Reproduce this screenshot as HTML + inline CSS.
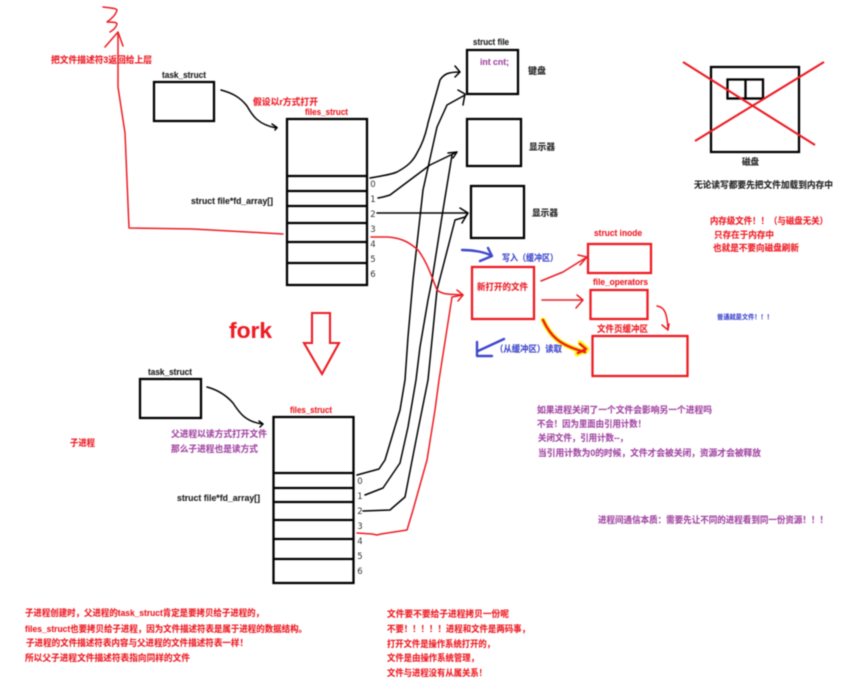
<!DOCTYPE html>
<html><head><meta charset="utf-8"><style>
html,body{margin:0;padding:0;background:#fff;width:844px;height:688px;overflow:hidden}
svg{display:block;filter:blur(.4px)}
text{font-family:"Liberation Sans","Noto Sans CJK SC",sans-serif;font-size:9px;font-weight:700;stroke-width:.12px}
.k{fill:#222;stroke:#222}.r{fill:#ed1c24;stroke:#ed1c24}.p{fill:#a349a4;stroke:#a349a4}.b{fill:#3f48cc;stroke:#3f48cc}
.n{font-family:"DejaVu Sans",sans-serif;font-weight:400;font-size:8.500px;fill:#333;stroke:none;text-anchor:middle}
.bx{fill:none;stroke:#000;stroke-width:2.300}
.rb{fill:none;stroke:#ed1c24;stroke-width:2.300}
.l{fill:none;stroke:#000;stroke-width:1.500;stroke-linejoin:round;stroke-linecap:round}
.rl{fill:none;stroke:#ed1c24;stroke-width:1.500;stroke-linejoin:round;stroke-linecap:round}
.bl{fill:none;stroke:#3f48cc;stroke-width:2.400;stroke-linejoin:round;stroke-linecap:round}
</style></head><body>
<svg width="844" height="688" viewBox="0 0 844 688" xmlns="http://www.w3.org/2000/svg">
<!-- top structs -->
<rect class="bx" x="154" y="82" width="60" height="39"/>
<rect class="bx" x="287" y="119" width="80" height="166"/>
<path class="bx" d="M287 176H367M287 191H367M287 206H367M287 223H367M287 242H367M287 263H367"/>
<!-- bottom structs -->
<rect class="bx" x="140" y="379" width="61" height="39"/>
<rect class="bx" x="273.500" y="417" width="80" height="166"/>
<path class="bx" d="M273 473H353M273 488H353M273 502H353M273 520H353M273 539H353M273 559H353"/>
<!-- file boxes -->
<rect class="bx" x="467" y="50" width="51" height="44"/>
<rect class="bx" x="467" y="119" width="54" height="47"/>
<rect class="bx" x="471" y="186" width="53" height="52"/>
<!-- disk -->
<rect class="bx" x="711" y="67" width="88" height="85"/>
<rect class="bx" x="727.500" y="79.500" width="35.500" height="19"/>
<path class="bx" d="M745.500 79V99"/>
<path d="M683 62L815 145M824 62L695 141" stroke="#ed1c24" stroke-width="2.100" fill="none"/>
<!-- red boxes -->
<rect class="rb" x="472" y="267" width="62" height="52"/>
<rect class="rb" x="588" y="244" width="63" height="29"/>
<rect class="rb" x="590.500" y="290" width="57" height="29"/>
<rect class="rb" x="592.500" y="336" width="95" height="40"/>
<!-- fork arrow -->
<path d="M312 313H330V343H339L322 374L304 343H312Z" fill="none" stroke="#ed1c24" stroke-width="2.100"/>
<!-- black connectors -->
<path class="l" d="M221 90C232 93 240 97 247 106C252 115 258 125 277 128M272 124L277 127.500L275 130"/>
<path class="l" d="M207 387C218 390 226 395 233 403C239 412 245 422 263 424M259 421L263 424L260 427"/>
<path class="l" d="M370 178C380 176 390 175 397 172C408 166 413 161 417 153C423 143 426 133 428 123L440 80C444 74 448 72 460 72M455 66L460 72L455 77"/>
<path class="l" d="M378 198C384 197 387 196 390 195L410 180L430 165L457 152M448 153L457 152L453 158"/>
<path class="l" d="M377 213H468M460 208L468 213L462 223"/>
<path class="l" d="M357 475L379 469L385 460L400 410L405 380L408 337L413 280L423 190L437 127L447 105L465 95M458 90L465 94L463 105"/>
<path class="l" d="M365 495L383 488L400 463L408 427L416 380L420 347L428 300L432 280L443 210L452 155"/>
<path class="l" d="M363 511L390 510L405 497L418 430L428 380L437 290L455 220L465 217M465 217L468 213"/>
<!-- red connectors -->
<path class="rl" d="M371 237L388 237C400 238 408 241 418 250C427 262 431 275 437 290C443 295 450 294 463 295M457 290L463 295L458 301"/>
<path class="rl" d="M357 533L372 534L377 535L381 534L407 530L413 510L427 460L435 410L439 380L452 297L463 295"/>
<path class="rl" d="M283 234L193 229L129 228L125 133L118 87L118 32M105 47L118 32L123 46"/>
<path class="rl" d="M103 7C110 8 116 8 117 10C116 15 110 20 107 22C112 22 117 22 117 24C116 28 113 30 110 32"/>
<path class="rl" d="M541 281L563 272L587 257M578 255L587 257L580 265"/>
<path class="rl" d="M542 300H583M577 295L583 300L576 308"/>
<path class="rl" d="M657 306C664 307 667 312 668 329M662 325L668 330L669 324"/>
<!-- highlighted arrow -->
<path d="M543 320C550 335 558 345 585 352M580 343L587 349L577 354" fill="none" stroke="#fff200" stroke-width="5" stroke-linejoin="round" stroke-linecap="round"/>
<path d="M543 320C550 335 558 345 585 352M580 344L586 349L578 353" fill="none" stroke="#ed1c24" stroke-width="2.400" stroke-linejoin="round" stroke-linecap="round"/>
<!-- blue marks -->
<path class="bl" d="M462 250C473 250 485 252 492 256L480 261M488 248L492 256"/>
<path class="bl" d="M504 339L478 351M477 342V356H492"/>
<!-- labels -->
<text class="r" x="51" y="63" textLength="101" lengthAdjust="spacingAndGlyphs">把文件描述符3返回给上层</text>
<text class="k" x="162" y="78" textLength="44" lengthAdjust="spacingAndGlyphs">task_struct</text>
<text class="r" x="253" y="105" textLength="65" lengthAdjust="spacingAndGlyphs">假设以r方式打开</text>
<text class="r" x="305" y="115" textLength="43" lengthAdjust="spacingAndGlyphs">files_struct</text>
<text class="k" x="191" y="204" textLength="82" lengthAdjust="spacingAndGlyphs">struct file*fd_array[]</text>
<text class="n" x="373" y="187">0</text><text class="n" x="373" y="202">1</text><text class="n" x="373" y="217">2</text><text class="n" x="373" y="232">3</text><text class="n" x="373" y="247">4</text><text class="n" x="373" y="262">5</text><text class="n" x="373" y="277">6</text>
<text class="n" x="360" y="484">0</text><text class="n" x="360" y="499">1</text><text class="n" x="360" y="514">2</text><text class="n" x="360" y="529">3</text><text class="n" x="360" y="544">4</text><text class="n" x="360" y="559">5</text><text class="n" x="360" y="574">6</text>
<text class="k" x="473" y="45" textLength="36" lengthAdjust="spacingAndGlyphs">struct file</text>
<text class="p" x="480" y="65" textLength="29" lengthAdjust="spacingAndGlyphs">int cnt;</text>
<text class="k" x="528" y="74" textLength="18" lengthAdjust="spacingAndGlyphs">键盘</text>
<text class="k" x="529" y="150" textLength="26" lengthAdjust="spacingAndGlyphs">显示器</text>
<text class="k" x="532" y="216" textLength="26" lengthAdjust="spacingAndGlyphs">显示器</text>
<text class="b" x="502" y="261" textLength="56" lengthAdjust="spacingAndGlyphs">写入（缓冲区）</text>
<text class="r" x="477" y="290" textLength="51" lengthAdjust="spacingAndGlyphs">新打开的文件</text>
<text class="r" x="594" y="236" textLength="48" lengthAdjust="spacingAndGlyphs">struct inode</text>
<text class="r" x="593" y="285" textLength="55" lengthAdjust="spacingAndGlyphs">file_operators</text>
<text class="r" x="597" y="332" textLength="51" lengthAdjust="spacingAndGlyphs">文件页缓冲区</text>
<text class="b" x="495" y="352" textLength="67" lengthAdjust="spacingAndGlyphs">（从缓冲区）读取</text>
<text class="k" x="742" y="165" textLength="17" lengthAdjust="spacingAndGlyphs">磁盘</text>
<text class="k" x="694" y="188" textLength="139" lengthAdjust="spacingAndGlyphs">无论读写都要先把文件加载到内存中</text>
<text class="r" x="710" y="224" textLength="118" lengthAdjust="spacingAndGlyphs">内存级文件！！（与磁盘无关）</text>
<text class="r" x="714" y="238" textLength="60" lengthAdjust="spacingAndGlyphs">只存在于内存中</text>
<text class="r" x="713" y="251" textLength="86" lengthAdjust="spacingAndGlyphs">也就是不要向磁盘刷新</text>
<text class="b" x="717" y="319" textLength="56" lengthAdjust="spacingAndGlyphs" style="font-size:6.500px">普通就是文件！！！</text>
<text class="r" x="229" y="338" textLength="43" lengthAdjust="spacingAndGlyphs" style="font-size:22px">fork</text>
<text class="r" x="70" y="446" textLength="25" lengthAdjust="spacingAndGlyphs">子进程</text>
<text class="p" x="171" y="437" textLength="96" lengthAdjust="spacingAndGlyphs">父进程以读方式打开文件</text>
<text class="p" x="171" y="452" textLength="87" lengthAdjust="spacingAndGlyphs">那么子进程也是读方式</text>
<text class="k" x="148" y="375" textLength="44" lengthAdjust="spacingAndGlyphs">task_struct</text>
<text class="r" x="290" y="413" textLength="42" lengthAdjust="spacingAndGlyphs">files_struct</text>
<text class="k" x="177" y="501" textLength="83" lengthAdjust="spacingAndGlyphs">struct file*fd_array[]</text>
<text class="r" x="25" y="616" textLength="239" lengthAdjust="spacingAndGlyphs">子进程创建时，父进程的task_struct肯定是要拷贝给子进程的，</text>
<text class="r" x="25" y="632" textLength="282" lengthAdjust="spacingAndGlyphs">files_struct也要拷贝给子进程，因为文件描述符表是属于进程的数据结构。</text>
<text class="r" x="26" y="646" textLength="222" lengthAdjust="spacingAndGlyphs">子进程的文件描述符表内容与父进程的文件描述符表一样！</text>
<text class="r" x="25" y="661" textLength="165" lengthAdjust="spacingAndGlyphs">所以父子进程文件描述符表指向同样的文件</text>
<text class="r" x="387" y="617" textLength="122" lengthAdjust="spacingAndGlyphs">文件要不要给子进程拷贝一份呢</text>
<text class="r" x="387" y="632" textLength="143" lengthAdjust="spacingAndGlyphs">不要！！！！！进程和文件是两码事，</text>
<text class="r" x="387" y="647" textLength="108" lengthAdjust="spacingAndGlyphs">打开文件是操作系统打开的，</text>
<text class="r" x="387" y="661" textLength="92" lengthAdjust="spacingAndGlyphs">文件是由操作系统管理，</text>
<text class="r" x="387" y="676" textLength="100" lengthAdjust="spacingAndGlyphs">文件与进程没有从属关系！</text>
<text class="p" x="537" y="413" textLength="175" lengthAdjust="spacingAndGlyphs">如果进程关闭了一个文件会影响另一个进程吗</text>
<text class="p" x="537" y="427" textLength="109" lengthAdjust="spacingAndGlyphs">不会！因为里面由引用计数！</text>
<text class="p" x="538" y="441" textLength="90" lengthAdjust="spacingAndGlyphs">关闭文件，引用计数--，</text>
<text class="p" x="538" y="456" textLength="223" lengthAdjust="spacingAndGlyphs">当引用计数为0的时候，文件才会被关闭，资源才会被释放</text>
<text class="p" x="598" y="523" textLength="230" lengthAdjust="spacingAndGlyphs">进程间通信本质：需要先让不同的进程看到同一份资源！！！</text>
</svg>
</body></html>
